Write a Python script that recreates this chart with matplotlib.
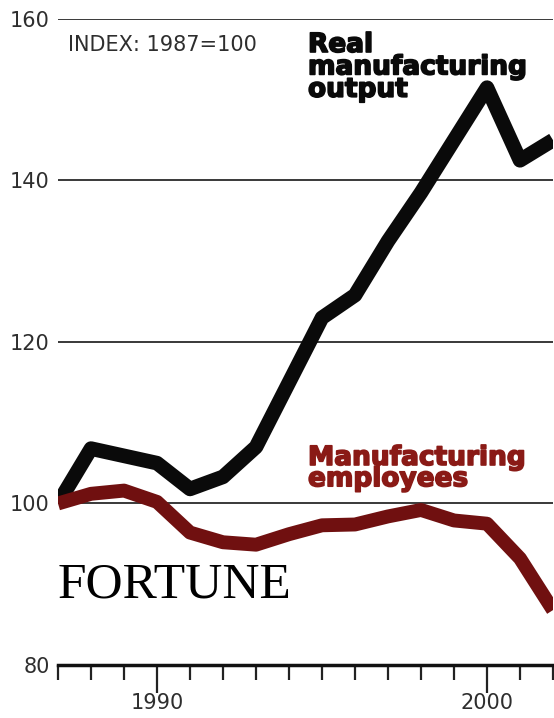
import matplotlib
matplotlib.use("Agg")
import matplotlib.pyplot as plt
import matplotlib.patheffects as pe
from matplotlib.ticker import MultipleLocator, FixedLocator

years = list(range(1987, 2003))
output = [100, 106.8, 105.9, 105.0, 101.8, 103.3, 107.0, 115.0, 123.0, 125.8,
          132.5, 138.5, 145.0, 151.5, 142.5, 145.0]
employees = [100, 101.2, 101.6, 100.2, 96.4, 95.2, 94.9, 96.2, 97.3, 97.4,
             98.4, 99.2, 97.9, 97.5, 93.2, 86.8]
yticks = [80, 100, 120, 140, 160]
xmajor = [1990, 2000]

W, H = 554, 718
fig = plt.figure(figsize=(W / 100, H / 100), dpi=100)
fig.patch.set_facecolor("white")
ax = fig.add_axes([58 / W, (H - 665) / H, (553 - 58) / W, (665 - 19) / H])
ax.set_xlim(1987, 2002)
ax.set_ylim(80, 160)

lab = ["DejaVu Sans"]
gray = "#2e2e2e"

for y in yticks[1:]:
    ax.axhline(y, color="#2a2a2a", lw=1.3, zorder=1)

ax.plot(years, output, color="#0a0a0a", lw=10.5, solid_joinstyle="round",
        solid_capstyle="butt", zorder=3)
ax.plot(years, employees, color="#701010", lw=10, solid_joinstyle="round",
        solid_capstyle="butt", zorder=3)

for s in ["top", "right", "left"]:
    ax.spines[s].set_visible(False)
ax.spines["bottom"].set_linewidth(2.5)
ax.spines["bottom"].set_color("#111111")

ax.set_yticks(yticks)
ax.set_yticklabels([str(v) for v in yticks], family=lab, fontsize=15, color=gray)
ax.tick_params(axis="y", length=0, pad=6)

ax.xaxis.set_major_locator(FixedLocator(xmajor))
ax.xaxis.set_minor_locator(MultipleLocator(1))
ax.set_xticklabels([str(v) for v in xmajor], family=lab, fontsize=15, color=gray)
ax.tick_params(axis="x", which="major", length=20, width=1.6, color="#222222", pad=0)
ax.tick_params(axis="x", which="minor", length=11, width=1.6, color="#222222")

def px(x, y):
    return x / W, 1 - y / H

fig.text(*px(68, 51), "INDEX: 1987=100", family=lab, fontsize=15, color=gray,
         va="baseline", ha="left")

heavy_k = [pe.withStroke(linewidth=1.2, foreground="#0a0a0a")]
heavy_r = [pe.withStroke(linewidth=1.2, foreground="#8a1a16")]
fig.text(*px(308, 32), "Real\nmanufacturing\noutput", family="DejaVu Sans",
         weight="bold", fontsize=19, color="#0a0a0a", va="top", ha="left",
         linespacing=0.82, path_effects=heavy_k)
fig.text(*px(308, 445), "Manufacturing\nemployees", family="DejaVu Sans",
         weight="bold", fontsize=19, color="#8a1a16", va="top", ha="left",
         linespacing=0.76, path_effects=heavy_r)
fig.text(*px(58, 598), "FORTUNE", family=["Liberation Serif", "DejaVu Serif"],
         fontsize=37, color="#000000", va="baseline", ha="left")

fig.savefig("out.png", dpi=100, facecolor=fig.get_facecolor())
